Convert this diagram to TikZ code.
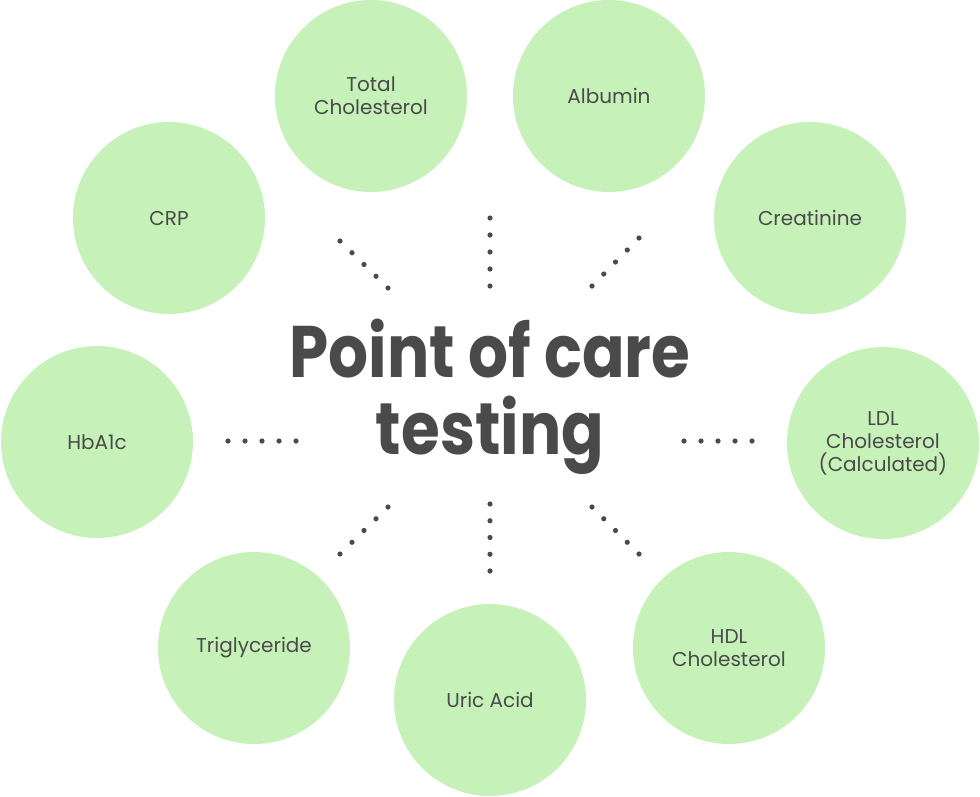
\documentclass[tikz,border=0pt]{standalone}
\usepackage{fontspec}
\setmainfont{Poppins}
\newfontfamily\titlefont[FakeStretch=0.86]{Poppins}
\usetikzlibrary{calc}
\definecolor{pillgreen}{RGB}{198,242,185}
\definecolor{inkgray}{RGB}{74,74,74}
\tikzset{
  test/.style={circle,fill=pillgreen,minimum size=192pt,inner sep=0pt,align=center,
    text=inkgray,font=\fontsize{20}{23}\selectfont},
  title/.style={align=center,text=inkgray,font=\titlefont\fontsize{73}{77}\selectfont\bfseries},
  dot/.style={fill=inkgray}
}
\begin{document}
\begin{tikzpicture}[x=1pt,y=-1pt]
\useasboundingbox (0,0) rectangle (980,796);
% circles
\node[test] (tchol) at (371,96) {Total\\Cholesterol};
\node[test] (alb) at (609,96) {Albumin};
\node[test] (crp) at (169,218) {CRP};
\node[test] (creat) at (810,218) {Creatinine};
\node[test] (hba) at (97,442) {HbA1c};
\node[test] (ldl) at (883,443) {LDL\\Cholesterol\\(Calculated)};
\node[test] (trig) at (254,648) {Triglyceride};
\node[test] (uric) at (490,700) {Uric Acid};
\node[test] (hdl) at (729,648) {HDL\\Cholesterol};
% centre
\node[title] (poc) at (490,397) {Point of care\\testing};
% dotted rays
\coordinate (n1) at (490,218); \coordinate (n2) at (490,286);
\coordinate (s1) at (490,504); \coordinate (s2) at (490,571);
\coordinate (w1) at (228,441); \coordinate (w2) at (296,441);
\coordinate (e1) at (684,441); \coordinate (e2) at (752,441);
\coordinate (nw1) at (340,241); \coordinate (nw2) at (388,288);
\coordinate (ne1) at (639,238); \coordinate (ne2) at (592,286);
\coordinate (sw1) at (340,554); \coordinate (sw2) at (388,507);
\coordinate (se1) at (639,554); \coordinate (se2) at (592,507);
\foreach \a/\b in {n1/n2,s1/s2,w1/w2,e1/e2,nw1/nw2,ne1/ne2,sw1/sw2,se1/se2}
  \foreach \i in {0,...,4}
    \fill[dot] ($(\a)!\i/4!(\b)$) circle (2.6pt);
\end{tikzpicture}
\end{document}
